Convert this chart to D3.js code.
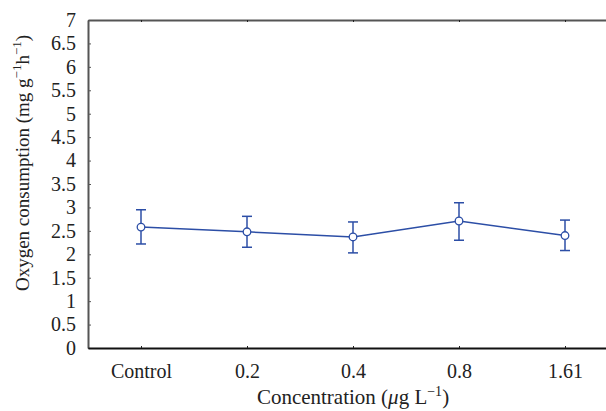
<!DOCTYPE html>
<html lang="en">
<head>
    <meta charset="UTF-8" />
    <title>Oxygen consumption</title>
    <script src="https://d3js.org/d3.v7.min.js"></script>
    <style>
        body { margin: 0; background: #fff; }
    </style>
</head>
<body>
    <div id="container"></div>
    <script>
        const categories = ["Control", "0.2", "0.4", "0.8", "1.61"]
        const means = [2.58, 2.48, 2.37, 2.71, 2.40]
        const upper = [2.95, 2.81, 2.69, 3.10, 2.73]
        const lower = [2.22, 2.15, 2.03, 2.30, 2.08]
        const yTicks = [0, 0.5, 1, 1.5, 2, 2.5, 3, 3.5, 4, 4.5, 5, 5.5, 6, 6.5, 7]

        const width = 606, height = 411
        const margin = { top: 20, right: -12, bottom: 63, left: 88 }
        const blue = "#2c4ea6"
        const serif = "'Liberation Serif', 'Times New Roman', 'DejaVu Serif', serif"

        const svg = d3.select("#container")
            .append("svg")
            .attr("width", width)
            .attr("height", height)
            .attr("font-family", serif)

        const x = d3.scalePoint()
            .domain(categories)
            .range([margin.left, width - margin.right])
            .padding(0.5)

        const y = d3.scaleLinear()
            .domain([0, 7])
            .range([height - margin.bottom, margin.top])

        // left axis, ticks pointing inward
        svg.append("g")
            .attr("transform", `translate(${margin.left},0)`)
            .call(d3.axisRight(y).tickValues(yTicks).tickSize(3).tickSizeOuter(0).tickFormat(d3.format("")))
            .attr("font-family", serif)
            .attr("font-size", 20)
            .call(g => g.select(".domain").attr("stroke", "#555").attr("stroke-width", 2))
            .call(g => g.selectAll(".tick line").attr("stroke", "#555"))
            .call(g => g.selectAll(".tick text")
                .attr("x", -12)
                .attr("text-anchor", "end")
                .attr("fill", "#222"))

        // top frame
        svg.append("g")
            .attr("transform", `translate(0,${margin.top})`)
            .call(d3.axisBottom(x).tickSize(2).tickSizeOuter(0).tickFormat(""))
            .call(g => g.select(".domain").attr("stroke", "#555").attr("stroke-width", 2))
            .call(g => g.selectAll(".tick line").attr("stroke", "#222"))

        // bottom axis
        svg.append("g")
            .attr("transform", `translate(0,${height - margin.bottom})`)
            .call(d3.axisTop(x).tickSize(2).tickSizeOuter(0))
            .attr("font-family", serif)
            .attr("font-size", 20)
            .call(g => g.select(".domain").attr("stroke", "#111").attr("stroke-width", 2))
            .call(g => g.selectAll(".tick line").attr("stroke", "#222"))
            .call(g => g.selectAll(".tick text")
                .attr("y", 30)
                .attr("dy", 0)
                .attr("fill", "#222"))

        // axis titles
        const xt = svg.append("text")
            .attr("x", (margin.left + width - margin.right) / 2)
            .attr("y", 404)
            .attr("text-anchor", "middle")
            .attr("font-size", 21)
            .attr("fill", "#222")
        xt.append("tspan").text("Concentration (")
        xt.append("tspan").attr("font-style", "italic").text("μ")
        xt.append("tspan").text("g L")
        xt.append("tspan").attr("font-size", 14).attr("dy", -8).text("−1")
        xt.append("tspan").attr("dy", 8).text(")")

        const yt = svg.append("text")
            .attr("transform", `translate(29,${(margin.top + height - margin.bottom) / 2 - 21}) rotate(-90)`)
            .attr("text-anchor", "middle")
            .attr("font-size", 19)
            .attr("fill", "#222")
        yt.append("tspan").text("Oxygen consumption (mg g")
        yt.append("tspan").attr("font-size", 13).attr("dy", -8).text("−1")
        yt.append("tspan").attr("dy", 8).text("h")
        yt.append("tspan").attr("font-size", 13).attr("dy", -8).text("−1")
        yt.append("tspan").attr("dy", 8).text(")")

        // error bars
        const bars = svg.append("g")
            .attr("stroke", blue)
            .attr("stroke-width", 1.5)
        categories.forEach((c, i) => {
            bars.append("line")
                .attr("x1", x(c)).attr("x2", x(c))
                .attr("y1", y(lower[i])).attr("y2", y(upper[i]))
            bars.append("line")
                .attr("x1", x(c) - 5).attr("x2", x(c) + 5)
                .attr("y1", y(upper[i])).attr("y2", y(upper[i]))
            bars.append("line")
                .attr("x1", x(c) - 5).attr("x2", x(c) + 5)
                .attr("y1", y(lower[i])).attr("y2", y(lower[i]))
        })

        const line = d3.line()
            .x((d, i) => x(categories[i]))
            .y(d => y(d))

        svg.append("path")
            .datum(means)
            .attr("fill", "none")
            .attr("stroke", blue)
            .attr("stroke-width", 1.5)
            .attr("d", line)

        svg.selectAll("circle.pt")
            .data(means)
            .join("circle")
            .attr("class", "pt")
            .attr("cx", (d, i) => x(categories[i]))
            .attr("cy", d => y(d))
            .attr("r", 3.8)
            .attr("fill", "#fff")
            .attr("stroke", blue)
            .attr("stroke-width", 1.3)
    </script>
</body>
</html>
